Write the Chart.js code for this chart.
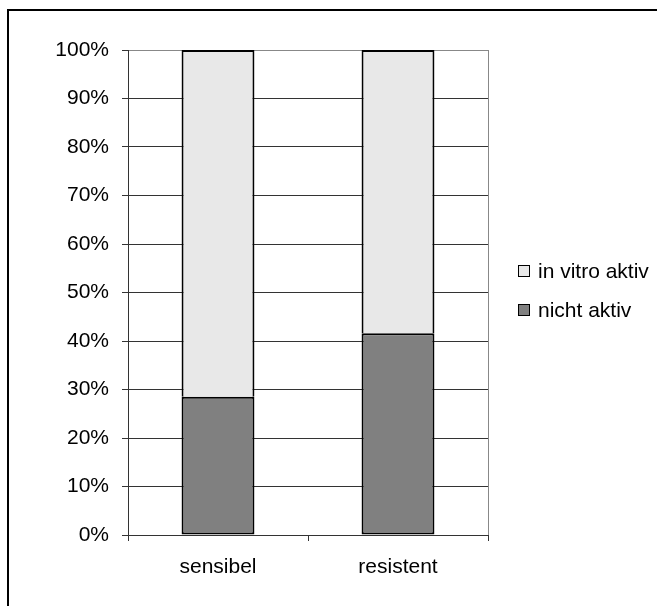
<!DOCTYPE html>
<html>
<head>
<meta charset="utf-8">
<script src="https://cdn.jsdelivr.net/npm/chart.js@4"></script>
<style>
    html, body { margin: 0; padding: 0; background: #fff; overflow: hidden; }
    #wrap { position: relative; width: 657px; height: 606px; overflow: hidden; }
    #frame { position: absolute; left: 7px; top: 9px; width: 700px; height: 700px; border: 2px solid #000; }
    #chart { position: absolute; left: 0; top: 0; }
    .legend { position: absolute; left: 518px; font-family: "Liberation Sans", Arial, sans-serif; font-size: 21px; color: #000; }
    .legend-item { height: 24px; line-height: 24px; display: flex; align-items: center; white-space: nowrap; }
    .legend-box { width: 10px; height: 10px; border: 1px solid #000; margin-right: 8px; }
</style>
</head>
<body>
<div id="wrap">
    <div id="frame"></div>
    <canvas id="chart" width="657" height="606"></canvas>
    <div class="legend" id="legend"></div>
</div>
<script>
// Chart data
const categories = ['sensibel', 'resistent'];
const nichtAktiv = [28.5, 41.6];
const inVitroAktiv = [71.5, 58.4];
const seriesNames = ['nicht aktiv', 'in vitro aktiv'];
const seriesColors = ['#808080', '#e8e8e8'];
const yTicks = [0, 10, 20, 30, 40, 50, 60, 70, 80, 90, 100];

const FONT = { family: '"Liberation Sans", Arial, sans-serif', size: 21 };

const $ = id => document.getElementById(id);

// lower segment keeps all borders, upper one skips its bottom so the boundary is a single line
const skipped = [false, 'bottom'];
const datasets = [nichtAktiv, inVitroAktiv].map((data, i) => ({
    label: seriesNames[i],
    data,
    backgroundColor: seriesColors[i],
    borderColor: '#000',
    borderWidth: 2,
    borderSkipped: skipped[i],
    barPercentage: 0.405,
    categoryPercentage: 1
}));

new Chart($('chart'), {
    type: 'bar',
    data: { labels: categories, datasets },
    options: {
        responsive: false,
        animation: false,
        layout: { padding: { top: 50, right: 169, left: 0, bottom: 0 } },
        plugins: { legend: { display: false }, tooltip: { enabled: false } },
        scales: {
            x: {
                stacked: true,
                afterFit: s => { s.height = 71; },
                border: { display: true, color: '#333', width: 1 },
                grid: {
                    offset: true,
                    drawOnChartArea: true,
                    color: ctx => ctx.index === 1 ? 'rgba(0,0,0,0)' : '#888',
                    tickColor: '#333',
                    tickLength: 6
                },
                ticks: { color: '#000', font: FONT, padding: 14 }
            },
            y: {
                stacked: true,
                min: 0,
                max: 100,
                afterFit: s => { s.width = 128; },
                afterBuildTicks: s => { s.ticks = yTicks.map(v => ({ value: v })); },
                border: { display: true, color: '#333', width: 1 },
                grid: { color: ctx => ctx.index === yTicks.length - 1 ? '#888' : '#333', tickColor: '#333', tickLength: 6 },
                ticks: { color: '#000', font: FONT, padding: 13, callback: v => v + '%' }
            }
        }
    }
});

// Legend (top item = upper stack segment)
const legendRows = [1, 0];
const legend = $('legend');
legend.style.top = (271 - 12) + 'px';
legendRows.forEach((i, k) => {
    const row = document.createElement('div');
    row.className = 'legend-item';
    if (k > 0) row.style.marginTop = '15px';
    row.innerHTML = `<span class="legend-box" style="background:${seriesColors[i]}"></span>${seriesNames[i]}`;
    legend.appendChild(row);
});
</script>
</body>
</html>
